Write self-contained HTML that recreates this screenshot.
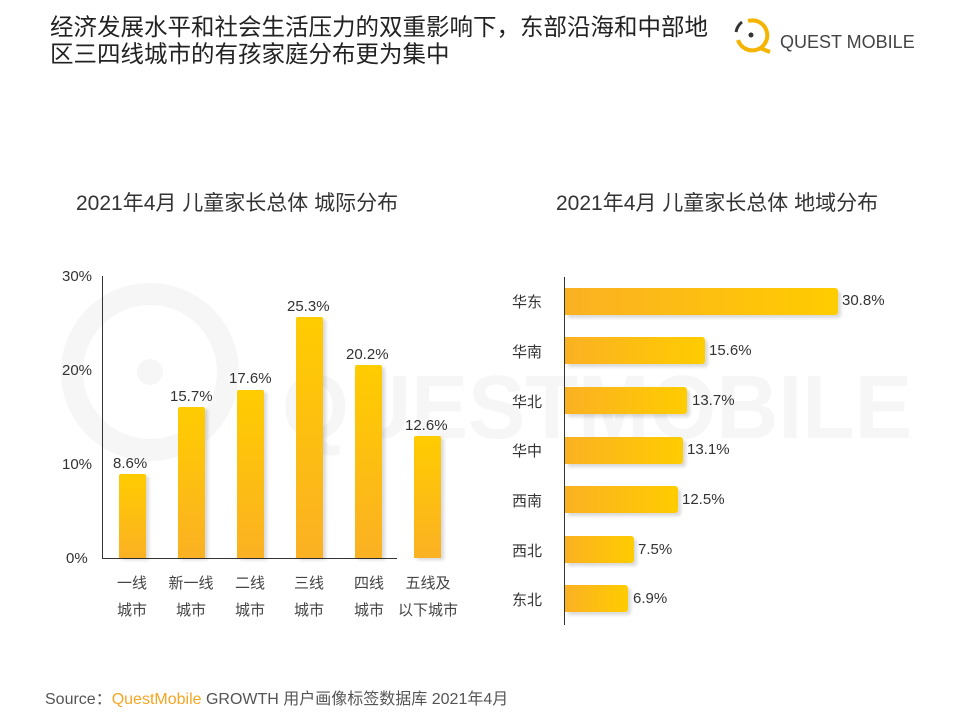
<!DOCTYPE html>
<html><head><meta charset="utf-8"><style>
body{margin:0;width:960px;height:720px;background:#fff;position:relative;overflow:hidden;font-family:"Liberation Sans","Noto Sans CJK SC",sans-serif;color:#333}
.a{position:absolute;white-space:nowrap}
.vb{position:absolute;width:27px;background:linear-gradient(#ffcc00,#fbb123);border-radius:2px 2px 0 0;box-shadow:3px 2px 3px rgba(0,0,0,.15)}
.hb{position:absolute;left:565px;height:27px;background:linear-gradient(90deg,#fbb123,#ffcc00);border-radius:0 3px 3px 0;box-shadow:3px 3px 3px rgba(0,0,0,.15)}
.v{font-size:15px;color:#333}
.c{font-size:15px;color:#444;text-align:center;width:60px;line-height:27px}
</style></head><body>
<svg class="a" style="left:0;top:0" width="960" height="720">
<g fill="none" stroke="#f6f6f6" stroke-width="22"><circle cx="150" cy="372" r="78"/></g>
<circle cx="150" cy="372" r="13" fill="#f6f6f6"/>
<text x="282" y="438" font-family="Liberation Sans" font-weight="bold" font-size="90" fill="#f6f6f6" textLength="630" lengthAdjust="spacingAndGlyphs">QUESTMOBILE</text>
<path d="M748 21 A15 15 0 1 1 738 40" fill="none" stroke="#f5b400" stroke-width="4"/>
<path d="M760 48 L770 52" stroke="#f5b400" stroke-width="4"/>
<path d="M742 22 A16 16 0 0 0 736 32" stroke="#333" stroke-width="3" fill="none"/>
<circle cx="751" cy="35" r="2.5" fill="#333"/>
</svg>
<div class="a" style="left:50px;top:14px;font-size:23.5px;line-height:27px;color:#222">经济发展水平和社会生活压力的双重影响下，东部沿海和中部地<br>区三四线城市的有孩家庭分布更为集中</div>
<div class="a" style="left:780px;top:32px;font-size:18px;color:#444">QUEST MOBILE</div>
<div class="a" style="left:76px;top:187px;font-size:21px;color:#333">2021年4月 儿童家长总体 城际分布</div>
<div class="a" style="left:556px;top:187px;font-size:21px;color:#333">2021年4月 儿童家长总体 地域分布</div>
<div class="a" style="left:102px;top:276px;width:1px;height:283px;background:#333"></div>
<div class="a" style="left:102px;top:558px;width:295px;height:1px;background:#333"></div>
<div class="a v" style="left:62px;top:268px">30%</div>
<div class="a v" style="left:62px;top:362px">20%</div>
<div class="a v" style="left:62px;top:456px">10%</div>
<div class="a v" style="left:66px;top:550px">0%</div>
<div class="vb" style="left:119px;top:474px;height:84px"></div>
<div class="vb" style="left:178px;top:407px;height:151px"></div>
<div class="vb" style="left:237px;top:390px;height:168px"></div>
<div class="vb" style="left:296px;top:317px;height:241px"></div>
<div class="vb" style="left:355px;top:365px;height:193px"></div>
<div class="vb" style="left:414px;top:436px;height:122px"></div>
<div class="a v" style="left:113px;top:455px">8.6%</div>
<div class="a v" style="left:170px;top:388px">15.7%</div>
<div class="a v" style="left:229px;top:370px">17.6%</div>
<div class="a v" style="left:287px;top:298px">25.3%</div>
<div class="a v" style="left:346px;top:346px">20.2%</div>
<div class="a v" style="left:405px;top:417px">12.6%</div>
<div class="a c" style="left:102px;top:570px">一线<br>城市</div>
<div class="a c" style="left:161px;top:570px">新一线<br>城市</div>
<div class="a c" style="left:220px;top:570px">二线<br>城市</div>
<div class="a c" style="left:279px;top:570px">三线<br>城市</div>
<div class="a c" style="left:339px;top:570px">四线<br>城市</div>
<div class="a c" style="left:398px;top:570px">五线及<br>以下城市</div>
<div class="a" style="left:564px;top:277px;width:1px;height:348px;background:#333"></div>
<div class="hb" style="top:288px;width:273px"></div>
<div class="hb" style="top:337px;width:140px"></div>
<div class="hb" style="top:387px;width:122px"></div>
<div class="hb" style="top:437px;width:118px"></div>
<div class="hb" style="top:486px;width:113px"></div>
<div class="hb" style="top:536px;width:69px"></div>
<div class="hb" style="top:585px;width:63px"></div>
<div class="a v" style="left:842px;top:292px">30.8%</div>
<div class="a v" style="left:709px;top:342px">15.6%</div>
<div class="a v" style="left:692px;top:392px">13.7%</div>
<div class="a v" style="left:687px;top:441px">13.1%</div>
<div class="a v" style="left:682px;top:491px">12.5%</div>
<div class="a v" style="left:638px;top:541px">7.5%</div>
<div class="a v" style="left:633px;top:590px">6.9%</div>
<div class="a v" style="left:512px;top:291px">华东</div>
<div class="a v" style="left:512px;top:341px">华南</div>
<div class="a v" style="left:512px;top:391px">华北</div>
<div class="a v" style="left:512px;top:440px">华中</div>
<div class="a v" style="left:512px;top:490px">西南</div>
<div class="a v" style="left:512px;top:540px">西北</div>
<div class="a v" style="left:512px;top:589px">东北</div>
<div class="a" style="left:45px;top:685px;font-size:16px;color:#555">Source：<span style="color:#f5a623">QuestMobile</span> GROWTH 用户画像标签数据库 2021年4月</div>
</body></html>
